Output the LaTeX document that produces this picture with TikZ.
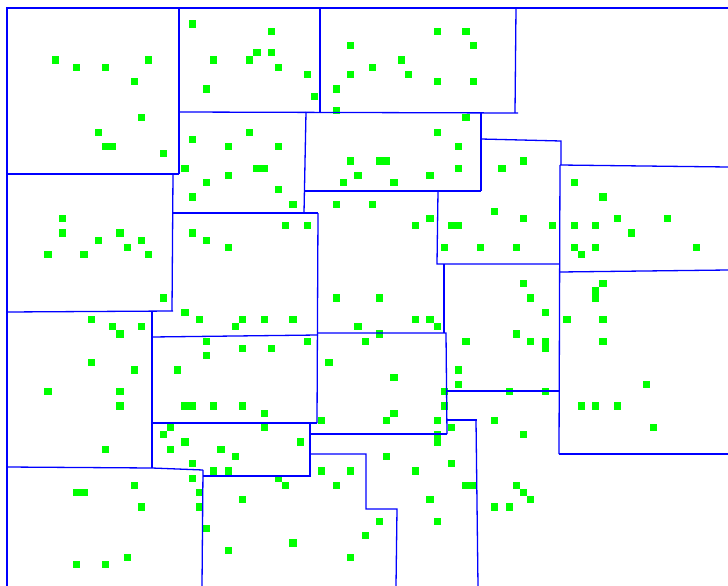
\documentclass[tikz,border=0pt]{standalone}
\usepackage{tikz}
\usetikzlibrary{positioning}
\tikzset{
    wall/.style = {draw=blue, line width=1.3pt},
    cell/.style = {fill=green, draw=none}
}
\newcommand{\cellsize}{7.208}

\begin{document}
\begin{tikzpicture}[x=1pt,y=-1pt]
			\useasboundingbox (0,0) rectangle (728,586);
			\foreach \i/\j in {26/3, 37/4, 60/4, 64/4, 48/6, 65/6, 35/7, 37/7,
				7/8, 20/8, 29/8, 34/8, 55/8, 10/9, 14/9, 38/9, 51/9, 42/10, 48/10, 56/10,
				18/11, 60/11, 65/11, 28/12, 46/12, 43/13, 46/15, 19/16, 64/16,
				13/18, 34/18, 60/18, 26/19, 14/20, 15/20, 31/20, 38/20, 63/20, 22/21,
				48/22, 52/22, 53/22, 72/22, 25/23, 35/23, 36/23, 63/23, 69/23,
				31/24, 49/24, 59/24, 28/25, 47/25, 54/25, 79/25, 38/26, 26/27, 83/27,
				40/28, 46/28, 51/28, 68/29, 8/30, 59/30, 72/30, 85/30, 92/30,
				39/31, 42/31, 57/31, 62/31, 63/31, 76/31, 79/31, 82/31,
				8/32, 16/32, 26/32, 87/32, 13/33, 19/33, 28/33,
				17/34, 31/34, 61/34, 66/34, 71/34, 79/34, 82/34, 96/34,
				6/35, 11/35, 20/35, 80/35, 72/39, 83/39, 82/40,
				22/41, 46/41, 52/41, 73/41, 82/41, 25/43, 75/43,
				12/44, 27/44, 33/44, 36/44, 40/44, 57/44, 59/44, 78/44, 83/44,
				15/45, 19/45, 32/45, 49/45, 60/45, 16/46, 52/46, 71/46,
				28/47, 42/47, 50/47, 64/47, 73/47, 75/47, 83/47, 33/48, 37/48, 75/48,
				28/49, 12/50, 45/50, 18/51, 24/51, 63/51, 54/52, 63/53, 89/53,
				6/54, 16/54, 61/54, 70/54, 75/54,
				16/56, 25/56, 26/56, 29/56, 33/56, 61/56, 80/56, 82/56, 85/56,
				36/57, 54/57, 44/58, 53/58, 60/58, 68/58, 23/59, 36/59, 62/59, 90/59,
				22/60, 60/60, 72/60, 25/61, 41/61, 60/61, 14/62, 23/62, 30/62,
				32/63, 53/63, 26/64, 62/64, 29/65, 31/65, 44/65, 48/65, 57/65,
				26/66, 38/66, 18/67, 39/67, 46/67, 64/67, 65/67, 71/67,
				10/68, 11/68, 27/68, 72/68, 33/69, 59/69, 73/69,
				19/70, 27/70, 68/70, 70/70, 52/72, 60/72, 28/73, 50/74, 40/75,
				31/76, 17/77, 48/77, 10/78, 14/78}
				\fill[cell] ({1.1+\cellsize*\i},{-1.2+\cellsize*\j}) rectangle +(\cellsize,\cellsize);
			\draw[wall] (728,8) -- (7,8) -- (7,586);
			\draw[wall] (179,8) -- (179,174);
			\draw[wall] (7,174) -- (179,174);
			\draw[wall] (320,8) -- (320,112);
			\draw[wall] (516,8) -- (515,113);
			\draw[wall] (179,112) -- (518,113);
			\draw[wall] (306,112) -- (304,213);
			\draw[wall] (304,191) -- (481,191);
			\draw[wall] (481,113) -- (481,191);
			\draw[wall] (481,139) -- (561,141) -- (561,165);
			\draw[wall] (560,165) -- (728,167);
			\draw[wall] (560,165) -- (559,454);
			\draw[wall] (560,272) -- (728,270);
			\draw[wall] (438,191) -- (437,264) -- (559,264);
			\draw[wall] (444,264) -- (444,333);
			\draw[wall] (318,333) -- (446,333) -- (447,434);
			\draw[wall] (446,391) -- (559,391);
			\draw[wall] (559,454) -- (728,454);
			\draw[wall] (310,434) -- (447,434);
			\draw[wall] (447,420) -- (477,420);
			\draw[wall] (476,420) -- (478,586);
			\draw[wall] (310,454) -- (366,454) -- (366,509) -- (397,509) -- (396,586);
			\draw[wall] (152,423) -- (317,423);
			\draw[wall] (310,423) -- (310,476) -- (203,476);
			\draw[wall] (203,470) -- (202,586);
			\draw[wall] (7,467) -- (152,468) -- (203,470);
			\draw[wall] (152,311) -- (152,468);
			\draw[wall] (152,337) -- (318,335);
			\draw[wall] (7,312) -- (173,311);
			\draw[wall] (173,174) -- (172,311);
			\draw[wall] (172,213) -- (318,213);
			\draw[wall] (318,213) -- (317,423);
		\end{tikzpicture}
\end{document}
